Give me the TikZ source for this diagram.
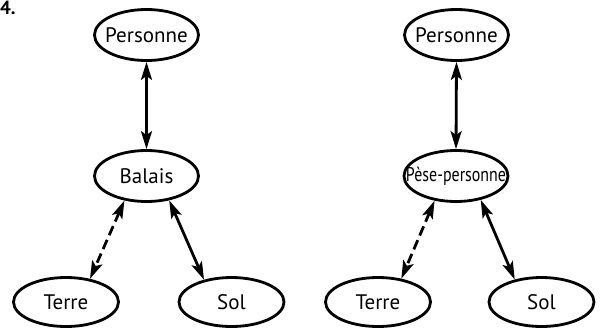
\documentclass[tikz,border=0pt]{standalone}
\usepackage{fontspec}
\setmainfont{PT Sans}
\usetikzlibrary{shapes.geometric,arrows.meta}
\begin{document}
\begin{tikzpicture}[x=1pt,y=-1pt,
  bubble/.style={ellipse,draw,line width=2.8pt,inner sep=0pt,
    minimum width=104pt,minimum height=51pt,font=\fontsize{21}{23}\selectfont},
  lowbubble/.style={bubble,minimum width=105pt,minimum height=49pt},
  link/.style={line width=2.8pt,{Stealth[length=18pt,width=11pt,inset=4pt]}-{Stealth[length=18pt,width=11pt,inset=4pt]}},
  weaklink/.style={link,dash pattern=on 10pt off 5pt}]
  \useasboundingbox (0,0) rectangle (601,330);

  % exercise number
  \node[anchor=base west,inner sep=0pt,font=\fontsize{19}{19}\bfseries\selectfont] (num) at (0,14) {4.};

  % broom system
  \node[bubble] (p1) at (146.5,35) {\makebox[0pt]{Personne}};
  \node[bubble] (b1) at (146.5,176) {\makebox[0pt]{Balais}};
  \node[lowbubble] (t1) at (66,302) {\makebox[0pt]{Terre}};
  \node[lowbubble] (s1) at (231.5,302) {\makebox[0pt]{Sol}};
  \draw[link] (p1.south) -- (b1.north);
  \draw[weaklink] (b1.-132) -- (t1.44);
  \draw[link] (b1.-47) -- (s1.141);

  % bathroom scale system
  \node[bubble] (p2) at (456.5,35) {\makebox[0pt]{Personne}};
  \node[bubble] (b2) at (456,176) {\makebox[0pt]{\scalebox{0.76}[0.95]{Pèse-personne}}};
  \node[lowbubble] (t2) at (378,302) {\makebox[0pt]{Terre}};
  \node[lowbubble] (s2) at (541.5,302) {\makebox[0pt]{Sol}};
  \draw[link] (p2.south) -- (b2.north);
  \draw[weaklink] (b2.-131) -- (t2.45);
  \draw[link] (b2.-44) -- (s2.140);
\end{tikzpicture}
\end{document}
